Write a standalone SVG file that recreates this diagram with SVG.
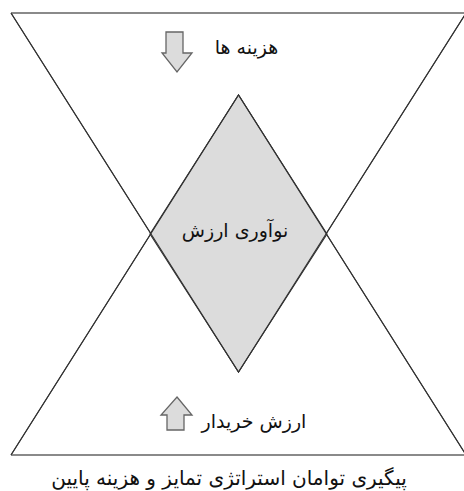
<svg xmlns="http://www.w3.org/2000/svg" width="464" height="491" viewBox="0 0 464 491">
<style>
.tri{fill:none;stroke:#333;stroke-width:1.1}
.base{stroke:#8a8a8a;stroke-width:2}
.dia{fill:#dcdcdc;stroke:#333;stroke-width:1.1}
.arr{fill:#dcdcdc;stroke:#666;stroke-width:1.3}
.t{font-family:"DejaVu Sans",sans-serif;font-size:19px;fill:#111;text-anchor:middle;direction:rtl}
</style>
<rect width="464" height="491" fill="#fff"/>
<g id="connectors">
<polyline class="tri" points="11,13 238.5,372 466,13"/>
<polyline class="tri" points="11,455 238.5,95 466,455"/>
<line class="base" x1="11" y1="13" x2="466" y2="13"/>
<line class="base" x1="11" y1="455" x2="466" y2="455"/>
</g>
<g id="value-innovation">
<polygon class="dia" points="238.5,95 150,234 238.5,372 327,234"/>
<polyline class="tri" points="11,13 238.5,372 466,13"/>
<polyline class="tri" points="11,455 238.5,95 466,455"/>
<text class="t" x="235" y="237">نوآوری ارزش</text>
</g>
<g id="costs">
<polygon class="arr" points="166,32 183,32 183,53 192,53 177,72 162,53 166,53"/>
<text class="t" x="246.5" y="54">هزینه ها</text>
</g>
<g id="buyer-value">
<polygon class="arr" points="177,397 192,415 184,415 184,430 167,430 167,415 161,415"/>
<text class="t" x="254" y="428">ارزش خریدار</text>
</g>
<g id="caption">
<text class="t" x="229" y="485" style="font-size:20px">پیگیری توامان استراتژی تمایز و هزینه پایین</text>
</g>
</svg>
